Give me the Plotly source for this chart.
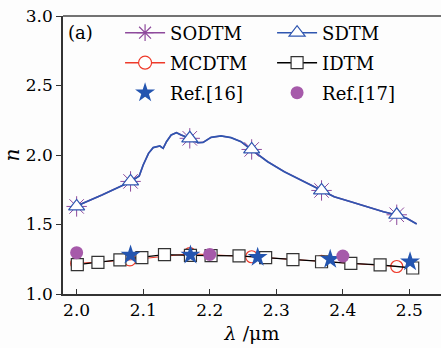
import plotly.graph_objects as go

# SDTM / SODTM continuous curve (coincident)
curve_x = [2.000, 2.038, 2.081, 2.094, 2.100, 2.108, 2.115, 2.125, 2.130, 2.135, 2.142, 2.150,
           2.157, 2.170, 2.182, 2.190, 2.202, 2.217, 2.232, 2.247, 2.262, 2.287, 2.312, 2.337,
           2.367, 2.387, 2.412, 2.436, 2.461, 2.481, 2.496, 2.511]
curve_y = [1.633, 1.712, 1.808, 1.849, 1.928, 2.012, 2.053, 2.065, 2.048, 2.096, 2.144, 2.161,
           2.144, 2.120, 2.089, 2.091, 2.127, 2.137, 2.125, 2.096, 2.041, 1.952, 1.880, 1.820,
           1.743, 1.700, 1.664, 1.628, 1.592, 1.568, 1.545, 1.504]
# marker positions on the SDTM / SODTM curve
mark_x = [2.000, 2.081, 2.170, 2.263, 2.368, 2.481]
mark_y = [1.630, 1.810, 2.120, 2.040, 1.745, 1.570]

# MCDTM
mcdtm_x = [2.000, 2.080, 2.170, 2.263, 2.368, 2.481]
mcdtm_y = [1.220, 1.245, 1.290, 1.268, 1.235, 1.198]

# IDTM
idtm_x = [2.001, 2.032, 2.065, 2.098, 2.132, 2.171, 2.202, 2.244, 2.284, 2.325, 2.368, 2.412, 2.456, 2.505]
idtm_y = [1.212, 1.228, 1.245, 1.261, 1.283, 1.278, 1.276, 1.274, 1.261, 1.247, 1.232, 1.221, 1.209, 1.187]

# Ref.[16]
ref16_x = [2.081, 2.171, 2.272, 2.381, 2.501]
ref16_y = [1.281, 1.281, 1.264, 1.250, 1.232]

# Ref.[17]
ref17_x = [2.000, 2.200, 2.400]
ref17_y = [1.297, 1.285, 1.273]

x_ticks = [2.0, 2.1, 2.2, 2.3, 2.4, 2.5]
y_ticks = [1.0, 1.5, 2.0, 2.5, 3.0]

BLUE = "#2f56b0"
PURPLE = "#8e4a9c"
RED = "#ee3a2a"
STAR = "#2455b0"
DOT = "#a65aaa"
FONT = "DejaVu Serif"

fig = go.Figure()

# data traces (no legend)
fig.add_trace(go.Scatter(x=curve_x, y=curve_y, mode="lines",
                         line=dict(color=PURPLE, width=1.5), showlegend=False))
fig.add_trace(go.Scatter(x=curve_x, y=curve_y, mode="lines",
                         line=dict(color=BLUE, width=1.7), showlegend=False))
fig.add_trace(go.Scatter(x=mark_x, y=mark_y, mode="markers", showlegend=False,
                         marker=dict(symbol="asterisk-open", size=17, color=PURPLE,
                                     line=dict(color=PURPLE, width=1))))
fig.add_trace(go.Scatter(x=mark_x, y=mark_y, mode="markers", showlegend=False,
                         marker=dict(symbol="triangle-up", size=14, color="white",
                                     line=dict(color=BLUE, width=1.2))))
fig.add_trace(go.Scatter(x=mcdtm_x, y=mcdtm_y, mode="lines+markers", showlegend=False,
                         line=dict(color=RED, width=1),
                         marker=dict(symbol="circle", size=12, color="rgba(255,255,255,0)",
                                     line=dict(color=RED, width=1.2))))
fig.add_trace(go.Scatter(x=idtm_x, y=idtm_y, mode="lines+markers", showlegend=False,
                         line=dict(color="black", width=1.3),
                         marker=dict(symbol="square", size=12, color="white",
                                     line=dict(color="#333333", width=1.2))))
fig.add_trace(go.Scatter(x=ref16_x, y=ref16_y, mode="markers", showlegend=False,
                         marker=dict(symbol="star", size=15, color=STAR, line=dict(width=0))))
fig.add_trace(go.Scatter(x=ref17_x, y=ref17_y, mode="markers", showlegend=False,
                         marker=dict(symbol="circle", size=13, color=DOT, line=dict(width=0))))

# legend entries
fig.add_trace(go.Scatter(x=[None], y=[None], mode="lines+markers", name="SODTM", legend="legend",
                         line=dict(color=PURPLE, width=1.5),
                         marker=dict(symbol="asterisk-open", size=14, color=PURPLE,
                                     line=dict(color=PURPLE, width=1.2))))
fig.add_trace(go.Scatter(x=[None], y=[None], mode="lines+markers", name="SDTM", legend="legend",
                         line=dict(color=BLUE, width=1.5),
                         marker=dict(symbol="triangle-up", size=14, color="white",
                                     line=dict(color=BLUE, width=1.2))))
fig.add_trace(go.Scatter(x=[None], y=[None], mode="lines+markers", name="MCDTM", legend="legend2",
                         line=dict(color=RED, width=1.5),
                         marker=dict(symbol="circle", size=13, color="white",
                                     line=dict(color=RED, width=1.2))))
fig.add_trace(go.Scatter(x=[None], y=[None], mode="lines+markers", name="IDTM", legend="legend2",
                         line=dict(color="black", width=1.5),
                         marker=dict(symbol="square", size=12, color="white",
                                     line=dict(color="#333333", width=1.2))))
fig.add_trace(go.Scatter(x=[None], y=[None], mode="markers", name="Ref.[16]", legend="legend3",
                         marker=dict(symbol="star", size=15, color=STAR, line=dict(width=0))))
fig.add_trace(go.Scatter(x=[None], y=[None], mode="markers", name="Ref.[17]", legend="legend3",
                         marker=dict(symbol="circle", size=13, color=DOT, line=dict(width=0))))

def leg(y):
    return dict(orientation="h", x=0.151, xanchor="left", y=y, yanchor="middle",
                bgcolor="rgba(0,0,0,0)", borderwidth=0, entrywidth=97, entrywidthmode="pixels",
                itemwidth=40, font=dict(family=FONT, size=18, color="black"),
                tracegroupgap=0, traceorder="normal")

fig.update_layout(
    width=441, height=348,
    margin=dict(l=61, r=0, t=16, b=54),
    paper_bgcolor="#fdfdfd", plot_bgcolor="#fdfdfd",
    font=dict(family=FONT, size=18, color="black"),
    legend=leg(0.939), legend2=leg(0.831), legend3=leg(0.723),
    xaxis=dict(range=[1.9795, 2.5475], tickvals=x_ticks, tickformat=".1f",
               ticks="inside", ticklen=5, tickwidth=1.3, tickcolor="#333",
               tickfont=dict(family=FONT, size=17),
               showline=True, linecolor="#333", linewidth=1.5, showgrid=False, zeroline=False,
               title=dict(text="<i>λ</i> /μm", standoff=8, font=dict(size=19, family=FONT))),
    yaxis=dict(range=[1, 3], tickvals=y_ticks, tickformat=".1f",
               ticks="outside", ticklen=5, tickwidth=1.3, tickcolor="#333",
               tickfont=dict(family=FONT, size=17),
               showline=True, linecolor="#333", linewidth=1.5, showgrid=False, zeroline=False,
               title=dict(text="<i>n</i>", standoff=12, font=dict(size=20, family=FONT))),
    shapes=[dict(type="line", xref="paper", yref="paper", x0=0, x1=1, y0=1, y1=1,
                 line=dict(color="#444", width=1.5))],
    annotations=[dict(text="(a)", xref="paper", yref="paper", x=0.008, y=0.939,
                      xanchor="left", yanchor="middle", showarrow=False,
                      font=dict(family=FONT, size=18, color="black"))],
)

fig.write_html("out.html")
